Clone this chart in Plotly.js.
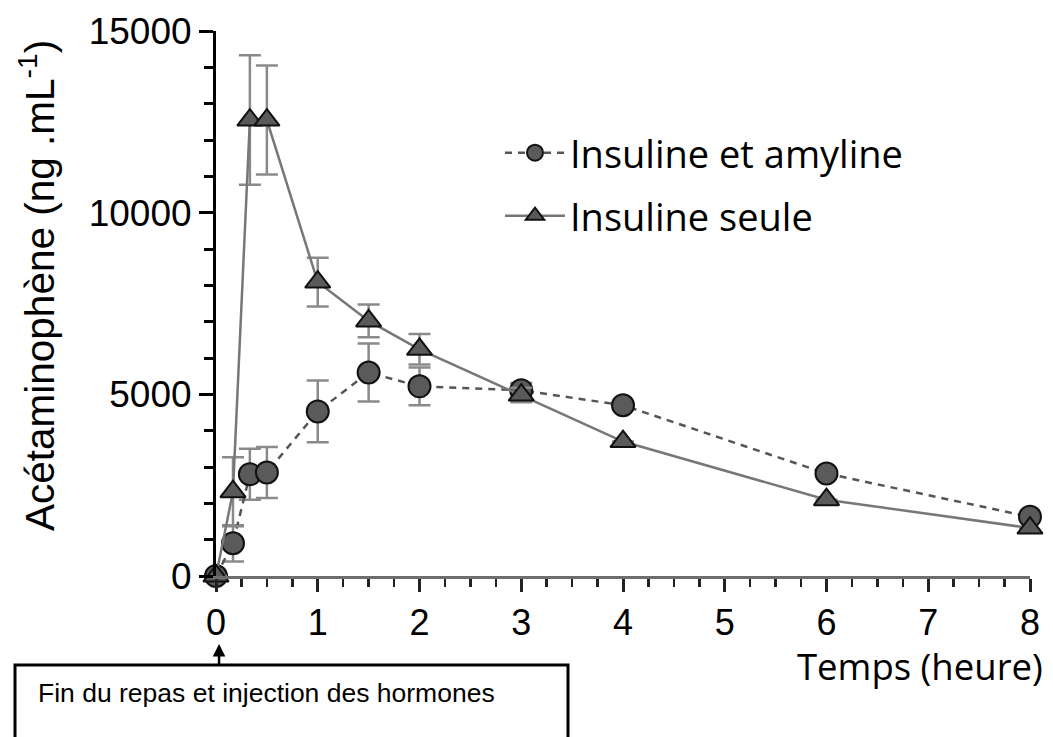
<!DOCTYPE html>
<html>
<head>
<meta charset="utf-8">
<script src="https://cdn.plot.ly/plotly-3.0.1.min.js"></script>
<style>html,body{margin:0;padding:0;background:#fff;}#chart{width:1053px;height:737px;}</style>
</head>
<body>
<div id="chart"></div>
<script>
// Data
const timeHours = [0, 0.167, 0.333, 0.5, 1, 1.5, 2, 3, 4, 6, 8];
const amylineValues = [0, 900, 2800, 2850, 4530, 5600, 5220, 5110, 4700, 2820, 1630];
const amylineErrors = [0, 500, 700, 700, 850, 800, 520, 200, 0, 0, 0];
const seuleValues = [0, 2320, 12550, 12550, 8090, 7020, 6240, 4980, 3700, 2100, 1320];
const seuleErrors = [0, 950, 1780, 1500, 670, 450, 420, 200, 0, 0, 0];
const seriesNames = ['Insuline et amyline', 'Insuline seule'];
const xTickValues = [0, 1, 2, 3, 4, 5, 6, 7, 8];
const yTickValues = [0, 5000, 10000, 15000];

// layout geometry helpers (pixel -> paper)
const L = 216, R = 1030, T = 31, B = 576;
const px = v => (v - L) / (R - L);
const py = v => (B - v) / (B - T);

const traces = [
  {
    x: timeHours, y: amylineValues, name: seriesNames[0], legend: 'legend',
    type: 'scatter', mode: 'lines+markers', cliponaxis: false,
    line: {color: '#555555', width: 2.5, dash: '7px,6px'},
    marker: {symbol: 'circle', size: 22, color: '#5a5a5a', line: {color: '#111111', width: 2}},
    error_y: {type: 'data', array: amylineErrors, visible: true, color: '#8a8a8a', thickness: 2.5, width: 11}
  },
  {
    x: timeHours, y: seuleValues, name: seriesNames[1], legend: 'legend2',
    type: 'scatter', mode: 'lines+markers', cliponaxis: false,
    line: {color: '#777777', width: 2.5},
    marker: {symbol: 'triangle-up', size: 22, color: '#5a5a5a', line: {color: '#111111', width: 2}},
    error_y: {type: 'data', array: seuleErrors, visible: true, color: '#8a8a8a', thickness: 2.5, width: 11}
  }
];

const legendStyle = {
  xanchor: 'left', yanchor: 'middle',
  font: {family: 'Open Sans', size: 38, color: '#000'},
  bgcolor: 'rgba(0,0,0,0)', itemwidth: 60
};

const layout = {
  width: 1053, height: 737,
  margin: {l: L, r: 1053 - R, t: T, b: 737 - B},
  paper_bgcolor: '#ffffff', plot_bgcolor: '#ffffff',
  showlegend: true,
  legend: Object.assign({x: px(500), y: py(153)}, legendStyle),
  legend2: Object.assign({x: px(500), y: py(216)}, legendStyle),
  xaxis: {
    range: [0, 8], tickvals: xTickValues, ticktext: xTickValues.map(String),
    showgrid: false, zeroline: false,
    showline: true, linecolor: '#6e6e6e', linewidth: 3,
    ticks: 'outside', ticklen: 13, tickwidth: 3, tickcolor: '#222',
    tickfont: {family: 'Liberation Sans', size: 36, color: '#000'},
    minor: {dtick: 0.25, ticks: 'outside', ticklen: 8, tickwidth: 2.5, tickcolor: '#222', showgrid: false},
    title: {text: ''}
  },
  yaxis: {
    range: [0, 15000], tickvals: yTickValues, ticktext: yTickValues.map(String),
    showgrid: false, zeroline: false,
    showline: true, linecolor: '#000', linewidth: 3,
    ticks: 'outside', ticklen: 14, tickwidth: 3, tickcolor: '#000',
    tickfont: {family: 'Liberation Sans', size: 37, color: '#000'},
    minor: {dtick: 1000, ticks: 'outside', ticklen: 9, tickwidth: 3, tickcolor: '#000', showgrid: false},
    title: {text: ''}
  },
  shapes: [
    {type: 'rect', xref: 'paper', yref: 'paper', x0: px(15), x1: px(568), y0: py(665), y1: py(790),
     line: {color: '#000', width: 3}, fillcolor: 'rgba(0,0,0,0)'}
  ],
  annotations: [
    {text: 'Acétaminophène (ng .mL<sup>-1</sup>)', xref: 'paper', yref: 'paper', x: px(37), y: py(286),
     textangle: -90, showarrow: false, xanchor: 'center', yanchor: 'middle',
     font: {family: 'Liberation Sans', size: 40.5, color: '#000'}},
    {text: 'Temps (heure)', xref: 'paper', yref: 'paper', x: px(1045), y: py(666),
     showarrow: false, xanchor: 'right', yanchor: 'middle',
     font: {family: 'Open Sans', size: 36.5, color: '#000'}},
    {text: 'Fin du repas et injection des hormones', xref: 'paper', yref: 'paper', x: px(36), y: py(693),
     showarrow: false, xanchor: 'left', yanchor: 'middle',
     font: {family: 'Liberation Sans', size: 26.5, color: '#000'}},
    {text: '', xref: 'x', yref: 'paper', x: 0.03, y: py(644), showarrow: true,
     ax: 0, ay: 22, arrowhead: 2, arrowsize: 1, arrowwidth: 2.5, arrowcolor: '#000'}
  ]
};

Plotly.newPlot('chart', traces, layout, {displayModeBar: false, staticPlot: true});
</script>
</body>
</html>
